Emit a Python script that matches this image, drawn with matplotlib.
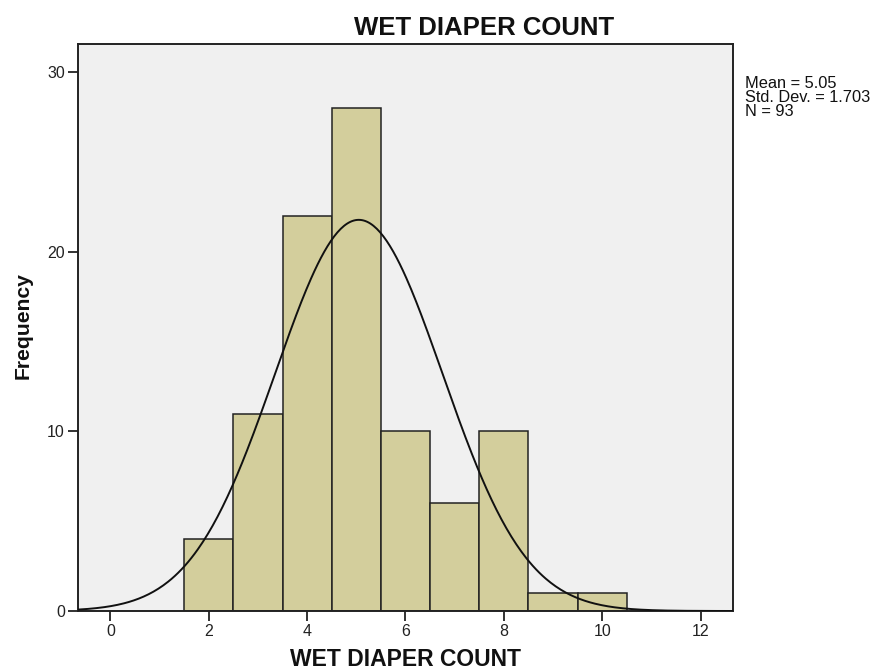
import numpy as np
import matplotlib
matplotlib.use("Agg")
import matplotlib.pyplot as plt

plt.rcParams['font.family'] = ['Liberation Sans', 'DejaVu Sans']

values = [2, 3, 4, 5, 6, 7, 8, 9, 10]
counts = [4, 11, 22, 28, 10, 6, 10, 1, 1]
mean = 5.05
sd = 1.703
n = 93
xticks = [0, 2, 4, 6, 8, 10, 12]
yticks = [0, 10, 20, 30]
stats_lines = ['Mean = 5.05', 'Std. Dev. = 1.703', 'N = 93']

W, H = 878, 671
fig = plt.figure(figsize=(W / 100, H / 100), dpi=100)
ax = fig.add_axes([78/W, 60/H, (733-78)/W, (611-44)/H])
ax.set_facecolor('#f0f0f0')
ax.bar(values, counts, width=1.0, color='#d3ce9c', edgecolor='#222222', linewidth=1.1, zorder=2)
xs = np.linspace(-0.66, 12.66, 400)
ys = n * 1.0 / (sd * np.sqrt(2 * np.pi)) * np.exp(-0.5 * ((xs - mean) / sd) ** 2)
ax.plot(xs, ys, color='#111111', linewidth=1.4, zorder=3)
ax.set_xlim(-0.66, 12.66)
ax.set_ylim(0, 31.58)
ax.set_xticks(xticks)
ax.set_yticks(yticks)
ax.tick_params(labelsize=11.5, length=7.5, width=1.3, colors='#222222', pad=2)
for s in ax.spines.values():
    s.set_linewidth(1.4)
    s.set_color('#222222')

fig.text(484/W, 1 - 35/H, 'WET DIAPER COUNT', fontsize=18.5, fontweight='bold',
         ha='center', va='baseline', color='#111111')
fig.text(405.5/W, 1 - 666/H, 'WET DIAPER COUNT', fontsize=16.5, fontweight='bold',
         ha='center', va='baseline', color='#111111')
fig.text(23/W, 1 - 325.5/H, 'Frequency', fontsize=15.2, fontweight='bold',
         rotation=90, ha='center', va='center', color='#111111')
for i, line in enumerate(stats_lines):
    fig.text(745/W, 1 - (88 + 14 * i)/H, line, fontsize=11.8, ha='left', va='baseline', color='#111111')
fig.savefig('out.png', dpi=100)
